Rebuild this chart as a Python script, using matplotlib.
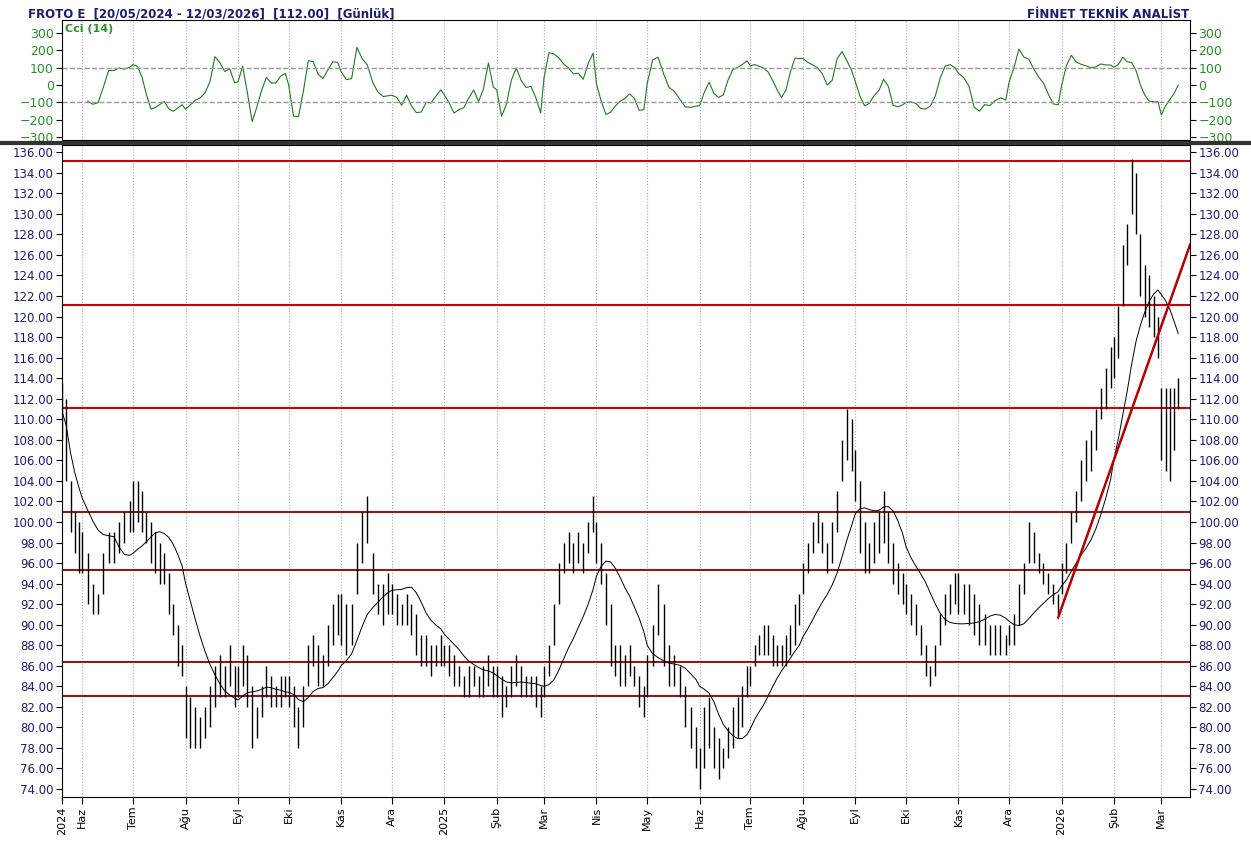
import numpy as np
import pandas as pd
import matplotlib.pyplot as plt

# high / low per month (roughly every other trading day)
month_starts = ['2024-05-20', '2024-06-01', '2024-07-01', '2024-08-01', '2024-09-01', '2024-10-01',
                '2024-11-01', '2024-12-01', '2025-01-01', '2025-02-01', '2025-03-01', '2025-04-01',
                '2025-05-01', '2025-06-01', '2025-07-01', '2025-08-01', '2025-09-01', '2025-10-01',
                '2025-11-01', '2025-12-01', '2026-01-01', '2026-02-01', '2026-03-01']
month_ends = month_starts[1:] + ['2026-03-13']

highs = [
    [113.5, 112, 104, 101, 100],
    [99, 97, 94, 93, 97, 99, 99, 100, 101, 102],
    [104, 104, 103, 101, 100, 99, 98, 97, 95, 92, 90, 88],
    [84, 83, 82, 81, 82, 84, 86, 87, 86, 88, 86],
    [86, 88, 87, 84, 82, 84, 86, 85, 84, 85, 85],
    [85, 84, 82, 84, 88, 89, 88, 87, 90, 92, 93],
    [93, 92, 92, 98, 101, 102.5, 97, 94, 94, 95],
    [94, 93, 92, 93, 92, 91, 89, 89, 88, 88, 89],
    [88, 88, 87, 86, 85, 86, 86, 85, 86, 87, 86],
    [86, 85, 84, 86, 87, 86, 85, 85, 85, 84],
    [86, 88, 92, 96, 98, 99, 98, 99, 98, 100, 102.5],
    [100, 98, 95, 92, 88, 88, 87, 88, 86, 85, 84],
    [87, 90, 94, 92, 88, 87, 86, 84, 82, 80],
    [78, 82, 83, 80, 79, 78, 80, 82, 83, 84, 86],
    [86, 88, 89, 90, 90, 89, 88, 88, 89, 90, 92, 93],
    [96, 98, 100, 101, 100, 98, 100, 103, 108, 111, 110],
    [107, 104, 100, 98, 100, 101, 103, 101, 98, 96, 95],
    [94, 93, 92, 90, 88, 86, 88, 91, 93, 94, 95],
    [95, 94, 94, 93, 92, 91, 90, 90, 90, 89],
    [90, 91, 94, 96, 100, 99, 97, 96, 95, 94, 93],
    [96, 98, 101, 103, 106, 108, 109, 111, 113, 115, 117],
    [118, 121, 127, 129, 135.3, 134, 128, 125, 124, 122, 120],
    [113, 113, 113, 113, 114],
]
lows = [
    [108, 104, 99, 97, 95],
    [95, 92, 91, 91, 93, 96, 96, 97, 98, 99],
    [99, 100, 99, 98, 96, 95, 94, 94, 91, 89, 86, 85],
    [79, 78, 78, 78, 79, 80, 82, 83, 83, 84, 82],
    [83, 84, 82, 78, 79, 81, 83, 82, 82, 82, 83],
    [82, 80, 78, 80, 84, 86, 84, 84, 86, 88, 89],
    [88, 87, 88, 93, 96, 98, 93, 91, 90, 91],
    [91, 90, 90, 90, 89, 87, 86, 86, 85, 86, 86],
    [86, 85, 84, 84, 83, 83, 84, 83, 83, 84, 83],
    [83, 81, 82, 83, 84, 83, 83, 83, 82, 81],
    [83, 85, 88, 92, 95, 96, 95, 96, 95, 97, 99],
    [96, 94, 90, 86, 85, 84, 84, 85, 84, 82, 81],
    [83, 86, 89, 86, 84, 84, 83, 80, 78, 76],
    [74, 76, 78, 76, 75, 76, 77, 78, 79, 80, 83],
    [84, 86, 87, 87, 87, 86, 86, 86, 86, 87, 88, 90],
    [93, 95, 97, 98, 97, 95, 96, 99, 104, 106, 105],
    [102, 97, 95, 95, 96, 97, 98, 96, 94, 93, 92],
    [91, 90, 89, 87, 85, 84, 85, 88, 90, 91, 92],
    [91, 91, 90, 89, 88, 88, 87, 87, 87, 87],
    [88, 88, 90, 93, 96, 96, 95, 94, 93, 92, 91],
    [93, 95, 98, 100, 102, 104, 105, 107, 110, 111, 113],
    [114, 116, 121, 125, 130, 128, 122, 120, 119, 118, 116],
    [106, 105, 104, 107, 111],
]

levels_red = [135.1, 121.1, 111.1]
levels_dark = [101.0, 95.3, 86.4, 83.1]
trend_dates = ['2025-12-30', '2026-03-18']
trend_prices = [90.7, 127.0]

month_labels = ['2024', 'Haz', 'Tem', 'Ağu', 'Eyl', 'Eki', 'Kas', 'Ara', '2025', 'Şub', 'Mar', 'Nis',
                'May', 'Haz', 'Tem', 'Ağu', 'Eyl', 'Eki', 'Kas', 'Ara', '2026', 'Şub', 'Mar']
month_ticks = ['2024-05-20'] + month_starts[1:]

# build the series
dates, hi, lo = [], [], []
for s, e, h, l in zip(month_starts, month_ends, highs, lows):
    d = pd.date_range(s, pd.Timestamp(e) - pd.Timedelta(days=2), periods=len(h))
    dates += list(d); hi += h; lo += l
df = pd.DataFrame({'h': hi, 'l': lo}, index=pd.DatetimeIndex(dates))
df['mid'] = (df.h + df.l) / 2
df['ma'] = df.mid.rolling(12, min_periods=1).mean()
tp = df.mid
md = tp.rolling(7).apply(lambda v: np.mean(np.abs(v - v.mean())), raw=True)
df['cci'] = (tp - tp.rolling(7).mean()) / (0.015 * md)

navy = '#1c1c6e'
green = '#2e8b2e'
fig = plt.figure(figsize=(12.51, 8.41), dpi=100)
ax_c = fig.add_axes([0.0496, 0.8335, 0.9017, 0.1427])
ax = fig.add_axes([0.0496, 0.0523, 0.9017, 0.775], sharex=ax_c)

xmin, xmax = pd.Timestamp('2024-05-20'), pd.Timestamp('2026-03-18')
tick_x = pd.to_datetime(month_ticks)

# CCI panel
ax_c.plot(df.index, df.cci, color='#1f7a1f', lw=0.8)
for v in (100, -100):
    ax_c.axhline(v, color='#999999', ls='--', lw=1)
ax_c.set_ylim(-317, 375)
ax_c.set_yticks([-300, -200, -100, 0, 100, 200, 300])
ax_c.tick_params(axis='y', labelsize=9, right=True, labelright=True, length=4, pad=2)
for t in ax_c.get_yticklabels():
    t.set_color(green)
ax_c.tick_params(axis='x', bottom=False, labelbottom=False)
ax_c.text(0.003, 0.97, 'Cci (14)', transform=ax_c.transAxes, color=green, fontsize=8, fontweight='bold', va='top')

# price panel
ax.vlines(df.index, df.l, df.h, color='black', lw=1.0, zorder=3)
ax.plot(df.index, df.ma, color='black', lw=0.7, zorder=3)
for v in levels_red:
    ax.axhline(v, color='#cc0000', lw=1.5)
for v in levels_dark:
    ax.axhline(v, color='#8b1a1a', lw=1.5)
ax.plot(pd.to_datetime(trend_dates), trend_prices, color='#b00000', lw=1.8, zorder=4)
ax.set_ylim(73.22, 136.68)
ax.set_yticks(np.arange(74, 137, 2))
ax.set_yticklabels([f'{v:.2f}' for v in np.arange(74, 137, 2)])
ax.tick_params(axis='y', labelsize=8.5, right=True, labelright=True, length=4, pad=2)
for t in ax.get_yticklabels():
    t.set_color(navy)

for a in (ax, ax_c):
    for x in tick_x:
        a.axvline(x, color='#aaaaaa', ls=':', lw=0.8, zorder=1)
    a.set_xlim(xmin, xmax)

ax.set_xticks(tick_x)
ax.set_xticklabels(month_labels, rotation=90, fontsize=8)
ax.tick_params(axis='x', length=5, pad=2)

fig.text(0.022, 0.991, 'FROTO E  [20/05/2024 - 12/03/2026]  [112.00]  [Günlük]', color=navy,
         fontsize=8.5, fontweight='bold', va='top')
fig.text(0.951, 0.991, 'FİNNET TEKNİK ANALİST', color=navy, fontsize=8.5, fontweight='bold',
         va='top', ha='right')
fig.add_artist(plt.Line2D([0, 1], [0.830, 0.830], color='#333333', lw=3))

fig.savefig('out.png', dpi=100)
